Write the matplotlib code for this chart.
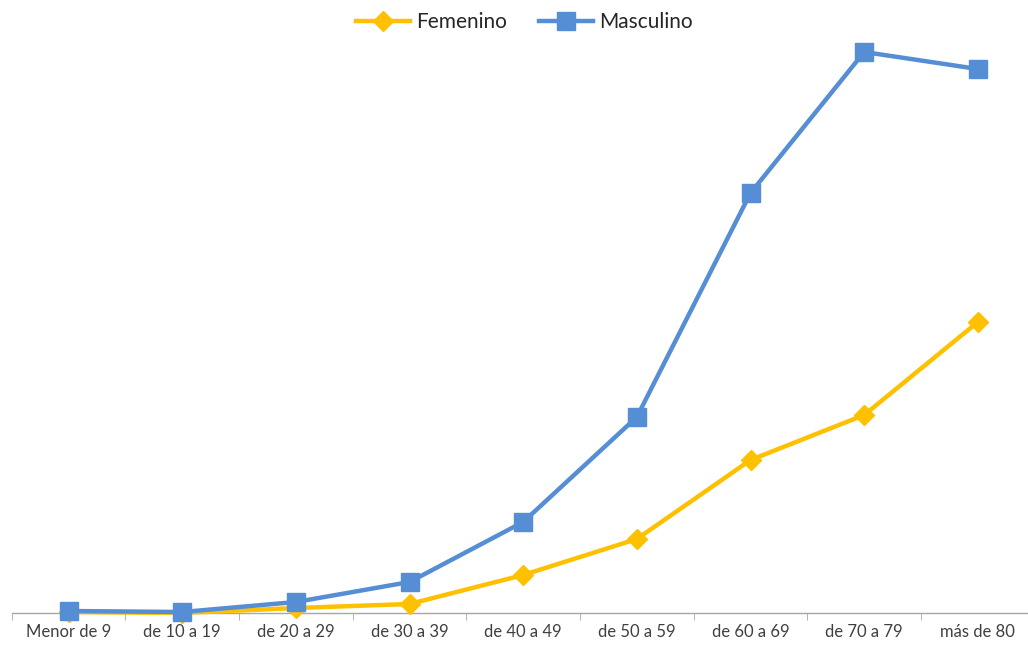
import matplotlib.pyplot as plt
import numpy as np

# Datos (unidades arbitrarias, sin eje Y)
categorias = ['Menor de 9', 'de 10 a 19', 'de 20 a 29', 'de 30 a 39', 'de 40 a 49',
              'de 50 a 59', 'de 60 a 69', 'de 70 a 79', 'más de 80']
femenino = [1, 0, 5, 9, 38, 74, 153, 198, 291]
masculino = [2, 1, 11, 31, 91, 196, 420, 561, 544]

plt.rcParams['font.family'] = ['Lato', 'DejaVu Sans']

fig = plt.figure(figsize=(10.28, 6.46), dpi=100)
# el eje se sale un poco por la derecha, como en el original
ax = fig.add_axes([11.7 / 1028, 1 - 613 / 646, 1023 / 1028, 573 / 646])

x = np.arange(len(categorias))
ax.plot(x, femenino, color='#FFC000', lw=3.2, marker='D', markersize=10,
        label='Femenino', zorder=3)
ax.plot(x, masculino, color='#558ED5', lw=3.2, marker='s', markersize=13,
        label='Masculino', zorder=4)

ax.set_xlim(-0.5, len(categorias) - 0.5)
ax.set_ylim(0, 573)
ax.set_yticks([])
for s in ['top', 'right', 'left']:
    ax.spines[s].set_visible(False)
ax.spines['bottom'].set_color('#A6A6A6')
ax.spines['bottom'].set_linewidth(1)

ax.set_xticks(x)
ax.set_xticklabels(categorias, fontsize=12, color='#404040')
ax.tick_params(axis='x', length=0, pad=8)
ax.set_xticks(np.arange(-0.5, len(categorias), 1), minor=True)
ax.tick_params(axis='x', which='minor', length=5, color='#A6A6A6')

for l in ax.lines:
    l.set_clip_on(False)

fig.legend(loc='upper center', bbox_to_anchor=(0.51, 1.01), ncol=2, frameon=False,
           fontsize=15, handlelength=2.6, columnspacing=1.5, handletextpad=0.3,
           labelcolor='#262626')

fig.savefig('out.png', dpi=100)
